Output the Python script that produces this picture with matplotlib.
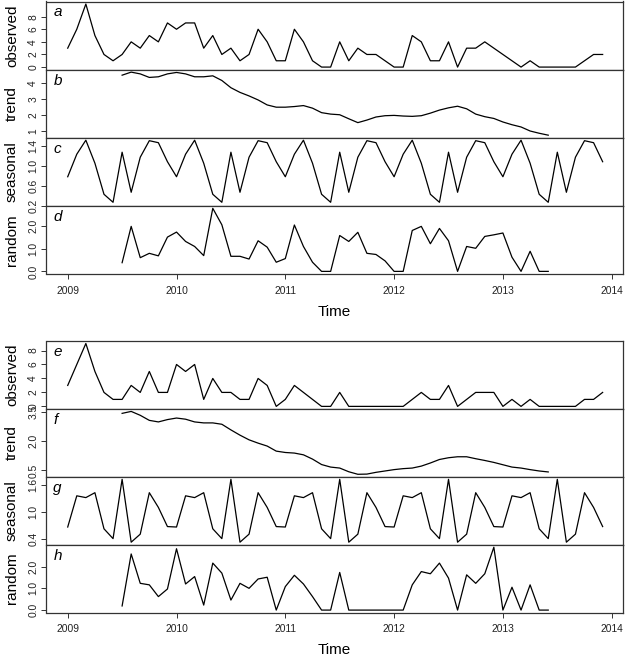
import numpy as np
import matplotlib
matplotlib.use("Agg")
import matplotlib.pyplot as plt

plt.rcParams['font.family'] = ['Liberation Sans', 'DejaVu Sans']

# ---------------- data ----------------
start_year = 2009
freq = 12
n_obs = 60
trend_start = 6      # index of first non-missing trend / random value

observed_top = [3, 6, 10, 5, 2, 1, 2, 4, 3, 5, 4, 7,
                6, 7, 7, 3, 5, 2, 3, 1, 2, 6, 4, 1,
                1, 6, 4, 1, 0, 0, 4, 1, 3, 2, 2, 1,
                0, 0, 5, 4, 1, 1, 4, 0, 3, 3, 4, 3,
                2, 1, 0, 1, 0, 0, 0, 0, 0, 1, 2, 2]

trend_top = [4.49, 4.68, 4.57, 4.35, 4.39, 4.57,
             4.66, 4.57, 4.39, 4.39, 4.45, 4.16,
             3.71, 3.42, 3.20, 2.95, 2.64, 2.50,
             2.50, 2.54, 2.60, 2.44, 2.16, 2.07,
             2.03, 1.78, 1.54, 1.70, 1.89, 1.97,
             1.99, 1.95, 1.93, 1.97, 2.13, 2.32,
             2.46, 2.56, 2.40, 2.07, 1.91, 1.80,
             1.58, 1.41, 1.27, 1.02, 0.88, 0.76]

seasonal_top = [0.78, 1.23, 1.51, 1.05, 0.43, 0.27, 1.27, 0.47, 1.17, 1.50, 1.46, 1.08,
                0.78, 1.23, 1.51, 1.05, 0.43, 0.27, 1.27, 0.47, 1.17, 1.50, 1.46, 1.08,
                0.78, 1.23, 1.51, 1.05, 0.43, 0.27, 1.27, 0.47, 1.17, 1.50, 1.46, 1.08,
                0.78, 1.23, 1.51, 1.05, 0.43, 0.27, 1.27, 0.47, 1.17, 1.50, 1.46, 1.08,
                0.78, 1.23, 1.51, 1.05, 0.43, 0.27, 1.27, 0.47, 1.17, 1.50, 1.46, 1.08]

random_top = [0.38, 1.97, 0.60, 0.79, 0.68, 1.50,
              1.72, 1.31, 1.09, 0.69, 2.76, 2.04,
              0.66, 0.66, 0.54, 1.34, 1.06, 0.40,
              0.56, 2.03, 1.09, 0.40, 0.00, 0.00,
              1.57, 1.31, 1.71, 0.79, 0.74, 0.46,
              0.00, 0.00, 1.79, 1.97, 1.21, 1.88,
              1.34, 0.00, 1.09, 1.01, 1.53, 1.60,
              1.68, 0.62, 0.00, 0.88, 0.00, 0.00]

observed_bot = [3, 6, 9, 5, 2, 1, 1, 3, 2, 5, 2, 2,
                6, 5, 6, 1, 4, 2, 2, 1, 1, 4, 3, 0,
                1, 3, 2, 1, 0, 0, 2, 0, 0, 0, 0, 0,
                0, 0, 1, 2, 1, 1, 3, 0, 1, 2, 2, 2,
                0, 1, 0, 1, 0, 0, 0, 0, 0, 1, 1, 2]

trend_bot = [3.43, 3.53, 3.33, 3.07, 2.99, 3.11,
             3.19, 3.13, 2.99, 2.94, 2.94, 2.87,
             2.58, 2.31, 2.07, 1.90, 1.75, 1.49,
             1.42, 1.39, 1.30, 1.08, 0.80, 0.67,
             0.62, 0.43, 0.30, 0.31, 0.40, 0.47,
             0.54, 0.59, 0.62, 0.72, 0.88, 1.06,
             1.15, 1.20, 1.20, 1.10, 1.01, 0.91,
             0.79, 0.67, 0.62, 0.54, 0.47, 0.42]

seasonal_bot = [0.66, 1.36, 1.32, 1.43, 0.62, 0.40, 1.73, 0.32, 0.50, 1.43, 1.10, 0.67,
                0.66, 1.36, 1.32, 1.43, 0.62, 0.40, 1.73, 0.32, 0.50, 1.43, 1.10, 0.67,
                0.66, 1.36, 1.32, 1.43, 0.62, 0.40, 1.73, 0.32, 0.50, 1.43, 1.10, 0.67,
                0.66, 1.36, 1.32, 1.43, 0.62, 0.40, 1.73, 0.32, 0.50, 1.43, 1.10, 0.67,
                0.66, 1.36, 1.32, 1.43, 0.62, 0.40, 1.73, 0.32, 0.50, 1.43, 1.10, 0.67]

random_bot = [0.19, 2.58, 1.23, 1.16, 0.62, 0.97,
              2.82, 1.20, 1.54, 0.23, 2.16, 1.70,
              0.46, 1.23, 1.00, 1.43, 1.51, 0.00,
              1.08, 1.60, 1.20, 0.62, 0.00, 0.00,
              1.73, 0.00, 0.00, 0.00, 0.00, 0.00,
              0.00, 0.00, 1.16, 1.77, 1.67, 2.16,
              1.47, 0.00, 1.62, 1.23, 1.67, 2.89,
              0.00, 1.05, 0.00, 1.16, 0.00, 0.00]

panel_names = ["observed", "trend", "seasonal", "random"]
letters_top = ["a", "b", "c", "d"]
letters_bot = ["e", "f", "g", "h"]

yticks_top = [[0, 2, 4, 6, 8], [1, 2, 3, 4], [0.2, 0.6, 1.0, 1.4], [0.0, 1.0, 2.0]]
yticklabels_top = [["0", "2", "4", "6", "8"], ["1", "2", "3", "4"],
                   ["0.2", "0.6", "1.0", "1.4"], ["0.0", "1.0", "2.0"]]
yticks_bot = [[0, 2, 4, 6, 8], [0.5, 2.0, 3.5], [0.4, 1.0, 1.6], [0.0, 1.0, 2.0]]
yticklabels_bot = [["0", "2", "4", "6", "8"], ["0.5", "2.0", "3.5"],
                   ["0.4", "1.0", "1.6"], ["0.0", "1.0", "2.0"]]

xticks = [2009, 2010, 2011, 2012, 2013, 2014]
xticklabels = ["2009", "2010", "2011", "2012", "2013", "2014"]
xlabel = "Time"

# ---------------- layout ----------------
W, H = 625, 656
fig = plt.figure(figsize=(W / 100, H / 100), dpi=100)

left_px, right_px = 46.5, 622.7
xlim = (2008.805, 2014.101)
frame_col = "#333333"

time_all = start_year + np.arange(n_obs) / freq
time_tr = start_year + (trend_start + np.arange(len(trend_top))) / freq


def draw_block(top_px, panel_h, series, yticks, yticklabels, letters, label_y_time):
    times = [time_all, time_tr, time_all, time_tr]
    axes = []
    for k in range(4):
        y0 = top_px + k * panel_h
        ax = fig.add_axes([left_px / W, 1 - (y0 + panel_h) / H,
                           (right_px - left_px) / W, panel_h / H])
        vals = np.asarray(series[k], dtype=float)
        ax.plot(times[k], vals, color="black", lw=0.9)
        ax.set_xlim(*xlim)
        lo, hi = vals.min(), vals.max()
        r = hi - lo
        ax.set_ylim(lo - 0.04 * r, hi + 0.04 * r)
        ax.set_yticks(yticks[k])
        ax.set_yticklabels(yticklabels[k], rotation=90, va="center",
                           fontsize=7.4, color="#222222")
        for s in ax.spines.values():
            s.set_color(frame_col)
            s.set_linewidth(0.9)
        ax.tick_params(axis="y", direction="out", length=3.5, width=0.7,
                       color=frame_col, pad=2.5)
        for t in ax.get_yticklabels():
            t.set_clip_on(False)
        if k < 3:
            ax.set_xticks([])
        else:
            ax.set_xticks(xticks)
            ax.set_xticklabels(xticklabels, fontsize=7.4, color="#222222")
            ax.tick_params(axis="x", direction="out", length=3.5, width=0.7,
                           color=frame_col, pad=5)
        ax.text(0.012, 1 - 15 / panel_h, letters[k], transform=ax.transAxes,
                fontsize=11, style="italic", va="baseline", ha="left")
        fig.text(12 / W, 1 - (y0 + panel_h / 2) / H, panel_names[k],
                 rotation=90, va="center", ha="center", fontsize=11)
        axes.append(ax)
    fig.text((left_px + right_px) / 2 / W, 1 - label_y_time / H, xlabel,
             ha="center", va="center", fontsize=11)
    return axes


draw_block(1.5, 68.1, [observed_top, trend_top, seasonal_top, random_top],
           yticks_top, yticklabels_top, letters_top, 312)
draw_block(341.0, 67.9, [observed_bot, trend_bot, seasonal_bot, random_bot],
           yticks_bot, yticklabels_bot, letters_bot, 650)

fig.savefig("out.png", dpi=100)
